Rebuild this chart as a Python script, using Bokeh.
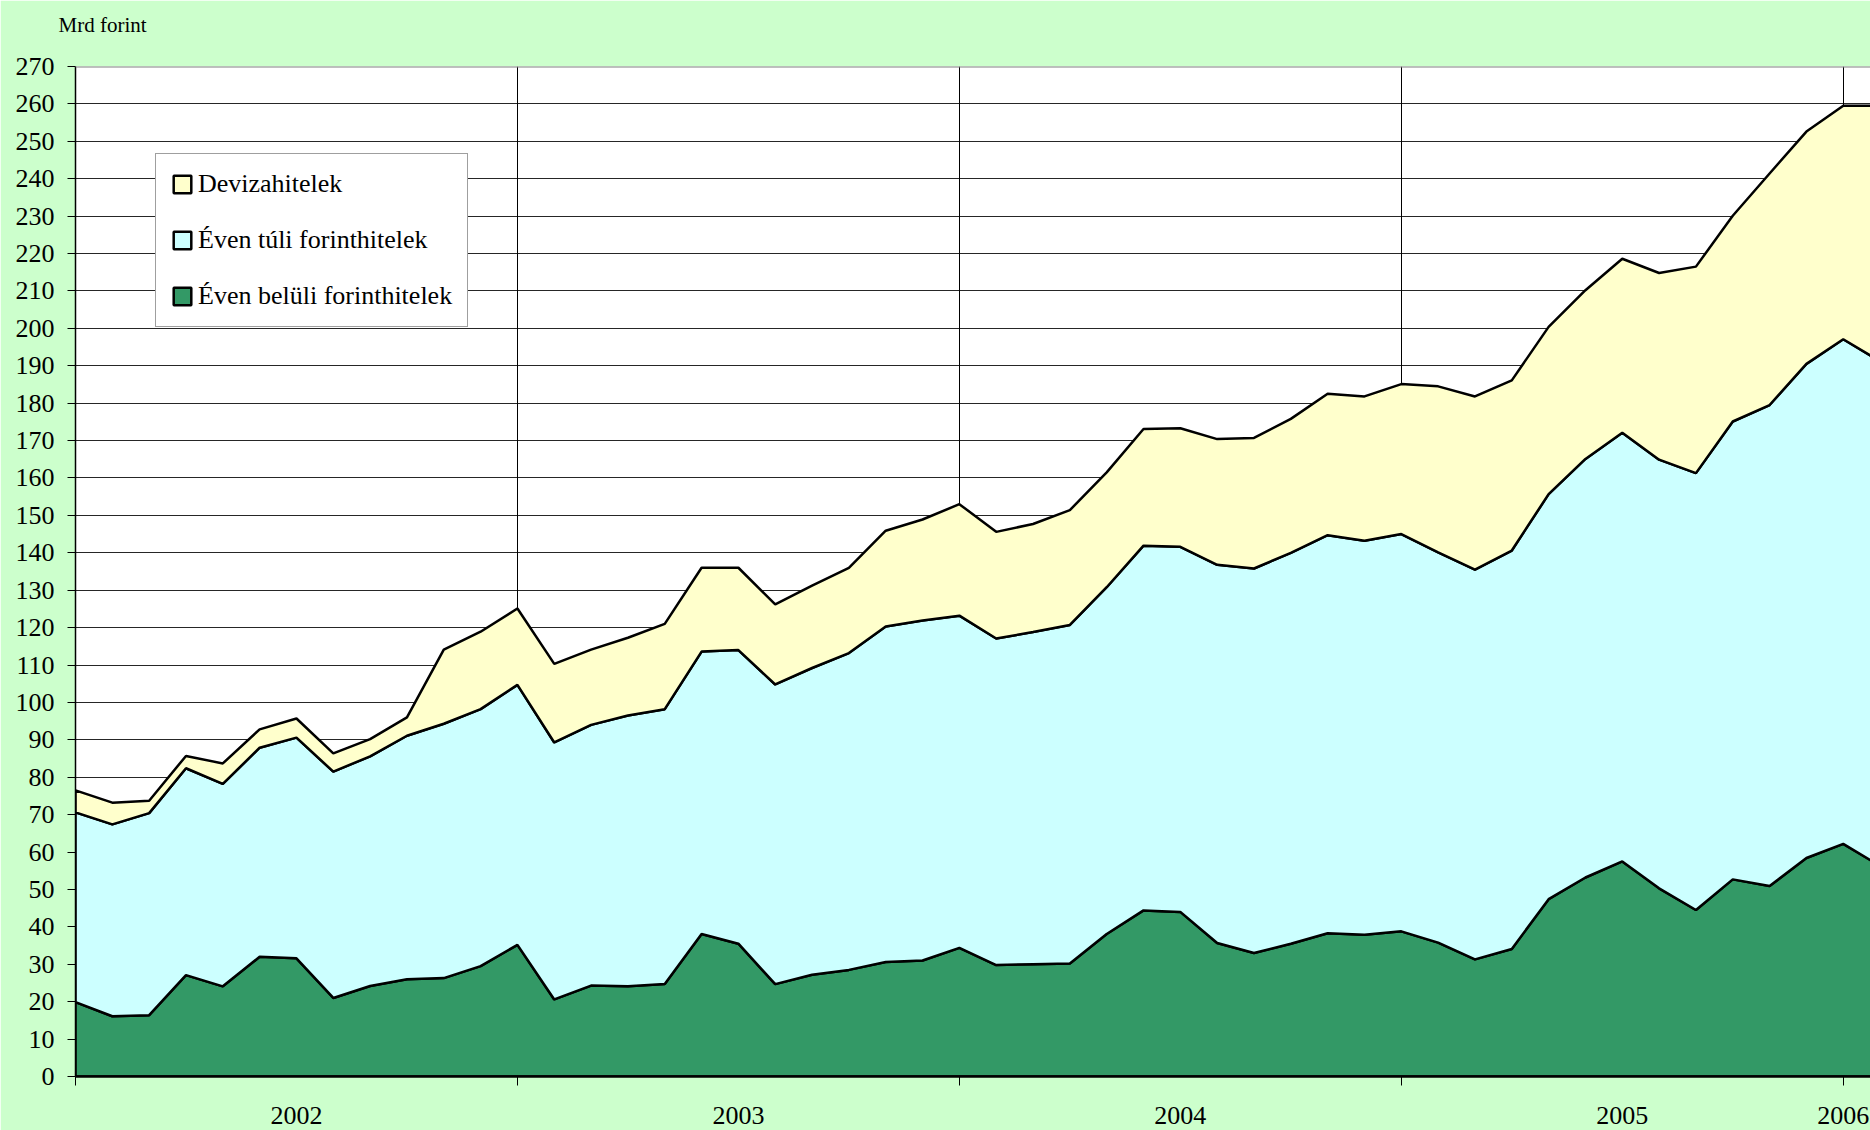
from bokeh.plotting import figure
from bokeh.models import (FixedTicker, Legend, LegendItem, Span, Range1d)
from bokeh.embed import file_html
from bokeh.resources import INLINE
import numpy as np

# ---------------- data (monthly, Jan 2002 -> Feb 2006) ----------------
months = list(range(50))
even_beluli = [19.9, 16.1, 16.4, 27.1, 24.1, 32.0, 31.6, 21.0, 24.2, 26.0, 26.3, 29.5,
               35.2, 20.6, 24.3, 24.1, 24.7, 38.1, 35.5, 24.7, 27.2, 28.5, 30.6, 31.0,
               34.4, 29.8, 30.0, 30.2, 38.1, 44.4, 44.0, 35.7, 33.0, 35.5, 38.3, 37.9,
               38.8, 35.8, 31.3, 34.1, 47.4, 53.2, 57.5, 50.3, 44.5, 52.7, 50.9, 58.4,
               62.2, 56.3]
even_tuli = [50.7, 51.3, 54.0, 55.3, 54.1, 55.9, 59.0, 60.5, 61.4, 65.1, 68.0, 68.7,
             69.5, 68.7, 69.7, 72.4, 73.5, 75.5, 78.5, 80.1, 82.0, 84.7, 89.7, 90.9,
             88.8, 87.3, 88.8, 90.5, 92.7, 97.5, 97.6, 101.1, 102.8, 104.5, 106.4, 105.3,
             106.2, 104.3, 104.2, 106.5, 108.3, 111.9, 114.6, 114.6, 116.8, 122.4, 128.6, 132.1,
             134.9, 134.9]
deviza = [5.9, 5.8, 3.3, 3.3, 5.5, 4.9, 5.1, 4.9, 4.6, 4.9, 19.8, 20.7,
          20.4, 21.0, 20.1, 20.8, 22.8, 22.4, 22.0, 21.4, 22.0, 22.8, 25.6, 27.0,
          29.8, 28.5, 28.9, 30.7, 30.7, 31.2, 31.7, 33.6, 34.9, 35.8, 37.8, 38.6,
          40.1, 44.4, 46.3, 45.5, 44.7, 45.1, 46.5, 49.9, 55.2, 55.0, 61.9, 62.1,
          62.4, 68.3]

series_names = ["Devizahitelek", "Éven túli forinthitelek", "Éven belüli forinthitelek"]
y_unit_label = "Mrd forint"
y_ticks = list(range(0, 271, 10))
year_labels = ["2002", "2003", "2004", "2005", "2006"]
year_label_pos = [6, 18, 30, 42, 48]
year_boundaries = [0, 12, 24, 36, 48]

# ---------------- figure ----------------
FONT = "Liberation Serif"
W, H = 1870, 1130
p = figure(width=W, height=H, output_backend="svg", toolbar_location=None,
           x_range=Range1d(0, 48.74), y_range=Range1d(0, 270),
           min_border_left=75, min_border_right=0, min_border_top=66, min_border_bottom=54,
           background_fill_color="white", border_fill_color="#CCFFCC",
           outline_line_color=None)

# title used as the unit label at top-left (trailing empty line lifts it upward)
p.title.text = y_unit_label + "\n"
p.title.align = "left"
p.title.vertical_align = "top"
p.title.offset = -17
p.title.standoff = 8
p.title.text_font = FONT
p.title.text_font_size = "21px"
p.title.text_font_style = "normal"
p.title.text_color = "black"

x = np.array(months, dtype=float)
lvl1 = np.array(even_beluli)
lvl2 = lvl1 + np.array(even_tuli)
lvl3 = lvl2 + np.array(deviza)
zero = np.zeros_like(lvl1)

def band(lo, hi):
    xs = np.concatenate([x, x[::-1]])
    ys = np.concatenate([hi, lo[::-1]])
    return xs, ys

LW = 2.5
bx, by = band(zero, lvl1)
r_bel = p.patch(bx, by, fill_color="#339966", line_color="black", line_width=LW)
tx, ty = band(lvl1, lvl2)
r_tul = p.patch(tx, ty, fill_color="#CCFFFF", line_color="black", line_width=LW)
dx, dy = band(lvl2, lvl3)
r_dev = p.patch(dx, dy, fill_color="#FFFFCC", line_color="black", line_width=LW)

# grid
p.ygrid.ticker = FixedTicker(ticks=y_ticks)
p.ygrid.grid_line_color = "black"
p.ygrid.grid_line_alpha = 0.85
p.ygrid.grid_line_width = 1
p.xgrid.ticker = FixedTicker(ticks=year_boundaries[1:])
p.xgrid.grid_line_color = "black"
p.xgrid.grid_line_width = 1

p.add_layout(Span(location=270, dimension="width", line_color="#808080", line_width=2))

# y axis
yax = p.yaxis[0]
yax.ticker = FixedTicker(ticks=y_ticks)
yax.major_tick_out = 8
yax.major_tick_in = 0
yax.minor_tick_out = 0
yax.minor_tick_in = 0
yax.major_tick_line_color = "black"
yax.axis_line_color = "black"
yax.axis_line_width = 1.5
yax.major_label_text_font = FONT
yax.major_label_text_font_size = "26px"
yax.major_label_text_color = "black"
yax.major_label_standoff = 13

# x axis: year labels at mid-year, tick marks at year boundaries
xax = p.xaxis[0]
xax.ticker = FixedTicker(ticks=year_label_pos, minor_ticks=year_boundaries)
xax.major_label_overrides = dict(zip(year_label_pos, year_labels))
xax.major_tick_out = 0
xax.major_tick_in = 0
xax.major_tick_line_color = None
xax.minor_tick_out = 9
xax.minor_tick_in = 0
xax.minor_tick_line_color = "black"
xax.minor_tick_line_width = 1
xax.axis_line_color = "black"
xax.axis_line_width = 2.5
xax.major_label_text_font = FONT
xax.major_label_text_font_size = "26px"
xax.major_label_text_color = "black"
xax.major_label_standoff = 21

legend = Legend(items=[LegendItem(label=series_names[0], renderers=[r_dev]),
                       LegendItem(label=series_names[1], renderers=[r_tul]),
                       LegendItem(label=series_names[2], renderers=[r_bel])],
                location=(80, 749), orientation="vertical",
                label_text_font=FONT, label_text_font_size="26px", label_text_color="black",
                glyph_width=22, glyph_height=22, label_height=30, label_standoff=5,
                spacing=26, padding=15, margin=0,
                border_line_color="#404040", border_line_width=1,
                background_fill_color="white", background_fill_alpha=1.0)
p.add_layout(legend)

html = file_html(p, INLINE)
html = html.replace("<body>", '<body style="background-color:#CCFFCC">', 1)
open("out.html", "w").write(html)
